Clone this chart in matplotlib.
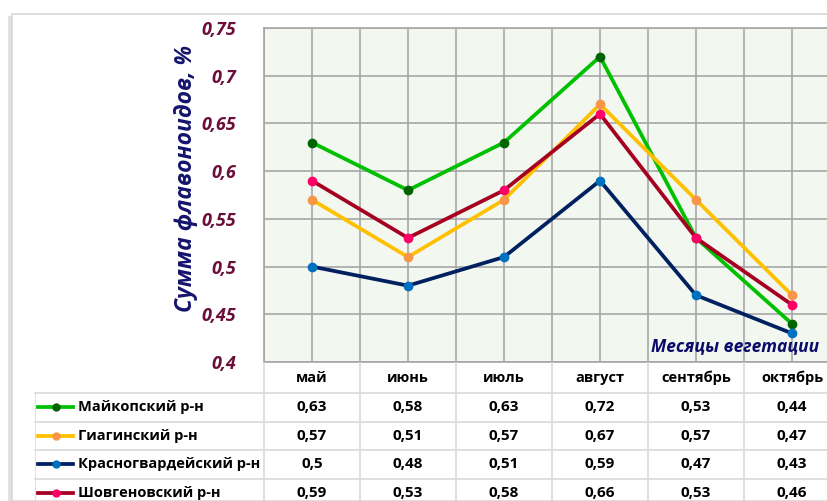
import matplotlib.pyplot as plt
from matplotlib.patches import Rectangle

# ---- data ----
months = ["май", "июнь", "июль", "август", "сентябрь", "октябрь"]
districts = ["Майкопский р-н", "Гиагинский р-н", "Красногвардейский р-н", "Шовгеновский р-н"]
maykop = [0.63, 0.58, 0.63, 0.72, 0.53, 0.44]
giaginsky = [0.57, 0.51, 0.57, 0.67, 0.57, 0.47]
krasnogv = [0.50, 0.48, 0.51, 0.59, 0.47, 0.43]
shovgen = [0.59, 0.53, 0.58, 0.66, 0.53, 0.46]
yticks = [0.4, 0.45, 0.5, 0.55, 0.6, 0.65, 0.7, 0.75]

series = [maykop, giaginsky, krasnogv, shovgen]
line_colors = ["#00C000", "#FFC000", "#002060", "#A50021"]
mark_colors = ["#006400", "#F79646", "#0070C0", "#FF0066"]

plt.rcParams['font.family'] = ['Open Sans', 'DejaVu Sans']

W, H = 828, 501
fig = plt.figure(figsize=(W / 100, H / 100), dpi=100)
fig.patch.set_facecolor("white")

# pixel -> figure fraction
def fx(px):
    return px / W

def fy(py):
    return 1 - py / H

# outer chart frame with a soft shadow on the left
fig.patches.append(Rectangle((fx(12), 0), 1, fy(14), transform=fig.transFigure,
                             fill=False, edgecolor="#D9D9D9", lw=1.2))
fig.patches.append(Rectangle((fx(8), 0), fx(4), fy(16), transform=fig.transFigure,
                             facecolor="#D0D0D0", edgecolor="none", alpha=0.6))

# plot area (chart is cut off on the right, like the original)
px_left, px_top, px_bottom, cat_w = 264, 28, 362, 96
ax = fig.add_axes([fx(px_left), fy(px_bottom), 1 - fx(px_left), (px_bottom - px_top) / H])
ax.set_facecolor("#F2F7EF")
xmax = -0.5 + (W - px_left) / cat_w
ax.set_yticks(yticks)
ax.set_yticklabels([("%g" % v).replace(".", ",") for v in yticks])
ax.set_xticks([i * 0.5 - 0.5 for i in range(14)])
ax.set_xlim(-0.5, xmax)
ax.set_ylim(0.4, 0.75)
ax.tick_params(axis="x", length=0, labelbottom=False)
ax.tick_params(axis="y", length=0, pad=20, labelcolor="#6B0F3A", labelsize=13)
for lab in ax.get_yticklabels():
    lab.set_fontweight("bold")
    lab.set_fontstyle("italic")
ax.grid(True, color="#A6A6A6", lw=1.2)
ax.set_axisbelow(True)
for s in ax.spines.values():
    s.set_color("#A6A6A6")
    s.set_linewidth(1.2)

x = list(range(len(months)))
for vals, lc, mc, name in zip(series, line_colors, mark_colors, districts):
    ax.plot(x, vals, color=lc, lw=2.7, marker="o", ms=6, mfc=mc, mec=mc, label=name,
            solid_joinstyle="miter", zorder=3)

ax.text(0.985, 0.02, "Месяцы вегетации", transform=ax.transAxes, ha="right", va="bottom",
        color="#0B0B6B", fontsize=12.5, fontweight="bold", fontstyle="italic")

fig.text(fx(186), fy(178), "Сумма флавоноидов, %", rotation=90, ha="center", va="center",
         color="#14146E", fontsize=16.5, fontweight="bold", fontstyle="italic")

# data table below the plot
tb_left = 35
tax = fig.add_axes([fx(tb_left), 0, 1 - fx(tb_left), (H - px_bottom) / H])
x0 = -0.5 - (px_left - tb_left) / cat_w
tax.set_xlim(x0, xmax)
tax.set_ylim(H - px_bottom, 0)
tax.axis("off")
grid_c = "#D9D9D9"
row_tops = [31, 59.5, 88, 116.5, 145]
for yl in row_tops:
    tax.plot([x0, xmax], [yl, yl], color=grid_c, lw=1.2, clip_on=False)
tax.plot([x0, x0], [row_tops[0], 145], color=grid_c, lw=1.2)
for i in range(len(months) + 1):
    tax.plot([i - 0.5, i - 0.5], [0, 145], color=grid_c, lw=1.2)

for i, m in enumerate(months):
    tax.text(i, 16, m, ha="center", va="center", fontsize=10.5, fontweight="bold", color="black")

for r, (vals, lc, mc, name) in enumerate(zip(series, line_colors, mark_colors, districts)):
    yc = (row_tops[r] + row_tops[r + 1]) / 2
    tax.plot([x0 + 0.03, x0 + 0.4], [yc, yc], color=lc, lw=2.7)
    tax.plot([x0 + 0.215], [yc], "o", ms=5, color=mc)
    tax.text(x0 + 0.45, yc, name, ha="left", va="center", fontsize=10.5, fontweight="bold")
    for i, v in enumerate(vals):
        tax.text(i, yc, ("%g" % v).replace(".", ","), ha="center", va="center",
                 fontsize=11, fontweight="bold")

fig.savefig("out.png", dpi=100)
